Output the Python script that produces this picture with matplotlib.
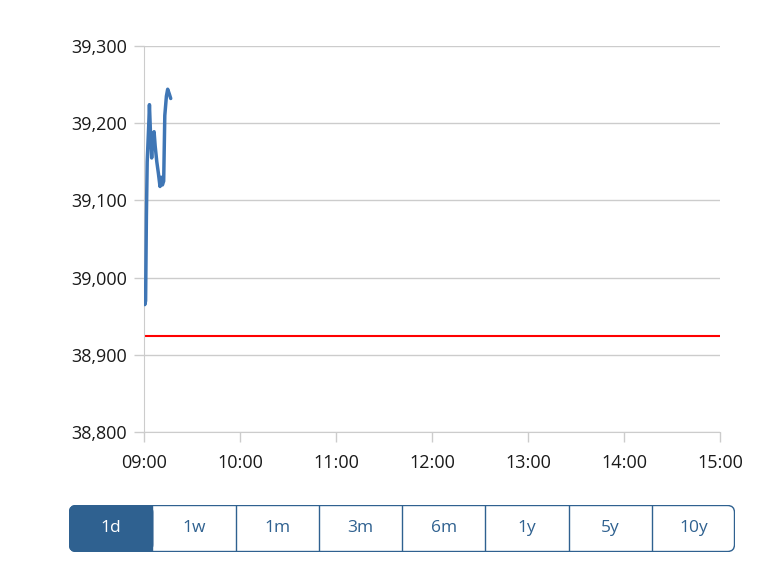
import matplotlib
matplotlib.use("Agg")
import matplotlib.pyplot as plt
import matplotlib.dates as mdates
from matplotlib.patches import FancyBboxPatch, Rectangle
import datetime as dt

# data
minutes = [0, 0.5, 1, 1.5, 2, 3, 3.4, 4, 4.8, 5.5, 6.3, 7, 8, 9, 10, 10.7, 11.5, 12.3, 13, 14, 14.8, 15.8, 16.7]
values = [38985, 38965, 38970, 39080, 39150, 39200, 39224, 39190, 39155, 39185, 39189, 39170,
          39150, 39135, 39118, 39130, 39120, 39125, 39210, 39235, 39244, 39238, 39232]
prev_close = 38924
y_ticks = [38800, 38900, 39000, 39100, 39200, 39300]
x_tick_hours = [9, 10, 11, 12, 13, 14, 15]
buttons = ["1d", "1w", "1m", "3m", "6m", "1y", "5y", "10y"]

plt.rcParams['font.family'] = ['Open Sans', 'DejaVu Sans']

W, H = 768, 571
fig = plt.figure(figsize=(W / 100, H / 100), dpi=100)
ax = fig.add_axes([144 / W, 1 - 432 / H, 576 / W, 386 / H])

base = dt.datetime(2024, 1, 1, 9, 0)
times = [base + dt.timedelta(minutes=m) for m in minutes]
ax.plot(times, values, color="#3f76b5", lw=2.5, solid_joinstyle="round", solid_capstyle="round", zorder=3)
ax.axhline(prev_close, color="#ff0000", lw=1.5, zorder=2)

ax.set_xlim(base, base + dt.timedelta(hours=6))
ax.set_ylim(38800, 39300)
ax.set_yticks(y_ticks)
ax.set_yticklabels([f"{v:,}" for v in y_ticks])
ax.set_xticks([dt.datetime(2024, 1, 1, h, 0) for h in x_tick_hours])
ax.xaxis.set_major_formatter(mdates.DateFormatter("%H:%M"))
ax.grid(axis="y", color="#cccccc", lw=1)
for s in ["top", "right"]:
    ax.spines[s].set_visible(False)
ax.spines["left"].set_color("#cccccc")
ax.spines["bottom"].set_color("#cccccc")
ax.tick_params(axis="both", colors="#cccccc", labelcolor="#1a1a1a", labelsize=13, length=7, width=1)
ax.tick_params(axis="y", pad=5)
ax.tick_params(axis="x", pad=9)

# buttons
bx0, by0, bw, bh = 69, 505, 666, 47
bax = fig.add_axes([bx0 / W, 1 - (by0 + bh) / H, bw / W, bh / H])
bax.set_xlim(0, bw)
bax.set_ylim(0, bh)
bax.axis("off")
edge = "#2f6190"
r = 7
cell = bw / len(buttons)
# first filled
bax.add_patch(FancyBboxPatch((0.5, 0.5), cell, bh - 1, boxstyle=f"round,pad=0,rounding_size={r}",
                             fc=edge, ec=edge, lw=1, zorder=1))
bax.add_patch(Rectangle((cell - r - 1, 0.5), r + 1, bh - 1, fc=edge, ec="none", zorder=1))
bax.add_patch(FancyBboxPatch((0.5, 0.5), bw - 1, bh - 1, boxstyle=f"round,pad=0,rounding_size={r}",
                             fc="none", ec=edge, lw=1, zorder=2))
for i in range(1, len(buttons)):
    bax.plot([i * cell, i * cell], [0.5, bh - 0.5], color=edge, lw=1, zorder=2)
for i, b in enumerate(buttons):
    bax.text((i + 0.5) * cell, bh / 2, b, ha="center", va="center", fontsize=12.5,
             color="white" if i == 0 else edge, zorder=3)

fig.savefig("out.png", dpi=100)
